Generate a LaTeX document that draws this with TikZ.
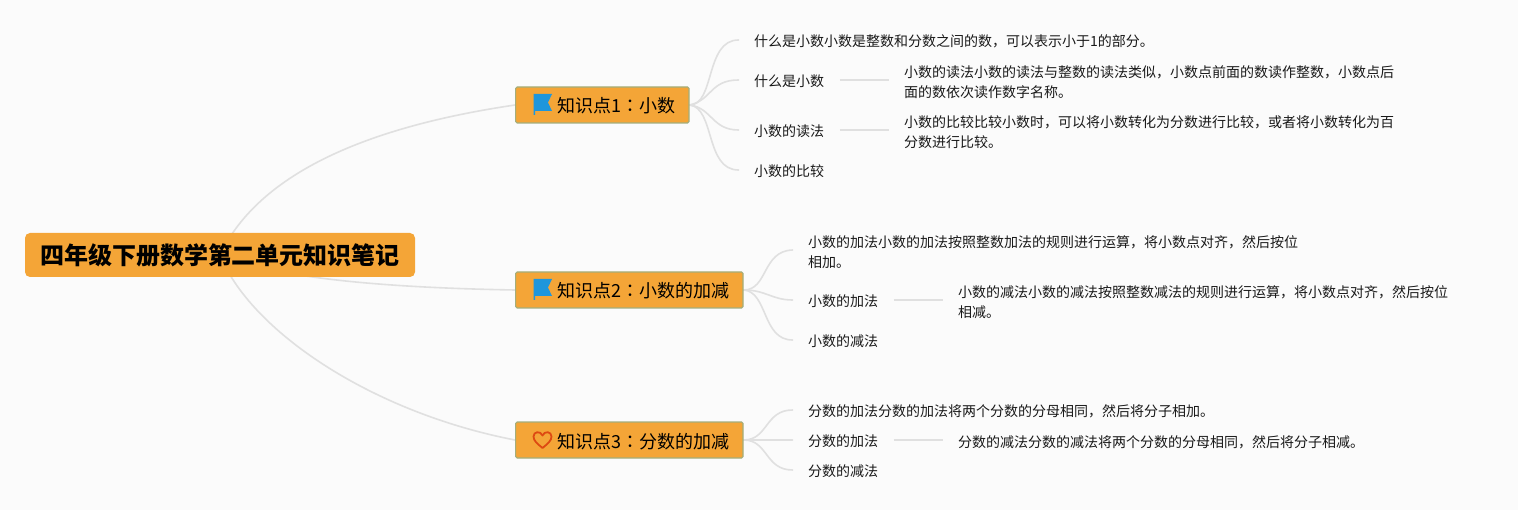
\documentclass[tikz,border=0pt]{standalone}
\usepackage{fontspec}
\setmainfont{Noto Sans CJK SC}
\newfontfamily\cjktc{Noto Sans CJK TC}
\usetikzlibrary{backgrounds}
\definecolor{bgc}{HTML}{FBFBFB}
\definecolor{orangec}{HTML}{F4A537}
\definecolor{bordc}{HTML}{A3AE7C}
\definecolor{linec}{HTML}{E0E0E0}
\definecolor{flagc}{HTML}{1E96DC}
\definecolor{heartc}{HTML}{DD4A12}
\newcommand{\tcolon}{{\cjktc ：}}
\tikzset{
  x=1pt,y=-1pt,
  rootbox/.style={fill=orangec,rounded corners=5pt,minimum width=390pt,minimum height=44pt,inner sep=0pt,text height=23pt,text depth=3pt,font=\fontsize{24}{28}\selectfont\bfseries},
  topicbox/.style={fill=orangec,draw=bordc,line width=1.2pt,rounded corners=1.5pt,minimum height=36pt,inner sep=0pt,anchor=west,text height=18pt,text depth=2pt,font=\fontsize{18}{22}\selectfont},
  leaf/.style={anchor=west,inner xsep=15.5pt,inner ysep=0pt,align=left,font=\fontsize{14}{20}\selectfont,text=black!90},
  link/.style={draw=linec,line width=1.6pt,line cap=round},
  thin link/.style={draw=linec,line width=1.4pt},
  flagicon/.style={fill=flagc},
  hearticon/.style={draw=heartc,line width=1.8pt,line join=round}
}
\begin{document}
\begin{tikzpicture}
\useasboundingbox (0,0) rectangle (1518,510);
% root and topics
\node[rootbox] (root) at (220,255) {四年级下册数学第二单元知识笔记};
\node[topicbox] (t1) at (515,105) {\hspace*{42pt}知识点1\tcolon 小数\hspace*{13.5pt}};
\node[topicbox] (t2) at (515,290) {\hspace*{42pt}知识点2\tcolon 小数的加减\hspace*{13.5pt}};
\node[topicbox] (t3) at (515,440) {\hspace*{42pt}知识点3\tcolon 分数的加减\hspace*{13.5pt}};
% topic 1
\node[leaf] (a1) at (738.5,41.5) {什么是小数小数是整数和分数之间的数，可以表示小于1的部分。};
\node[leaf] (a2) at (738.5,81.5) {什么是小数};
\node[leaf] (a3) at (738.5,131.5) {小数的读法};
\node[leaf] (a4) at (738.5,171.5) {小数的比较};
\node[leaf] (a2d) at (888.5,82) {小数的读法小数的读法与整数的读法类似，小数点前面的数读作整数，小数点后\\面的数依次读作数字名称。};
\node[leaf] (a3d) at (888.5,132) {小数的比较比较小数时，可以将小数转化为分数进行比较，或者将小数转化为百\\分数进行比较。};
% topic 2
\node[leaf] (b1) at (792.5,252) {小数的加法小数的加法按照整数加法的规则进行运算，将小数点对齐，然后按位\\相加。};
\node[leaf] (b2) at (792.5,301.5) {小数的加法};
\node[leaf] (b3) at (792.5,341.5) {小数的减法};
\node[leaf] (b2d) at (942.5,302) {小数的减法小数的减法按照整数减法的规则进行运算，将小数点对齐，然后按位\\相减。};
% topic 3
\node[leaf] (c1) at (792.5,411.5) {分数的加法分数的加法将两个分数的分母相同，然后将分子相加。};
\node[leaf] (c2) at (792.5,441.5) {分数的加法};
\node[leaf] (c3) at (792.5,471.5) {分数的减法};
\node[leaf] (c2d) at (942.5,442) {分数的减法分数的减法将两个分数的分母相同，然后将分子相减。};
% icons
\fill[flagicon] (533.5,94) -- (552,94) -- (548,102.5) -- (552,111) -- (535,111) -- (535,115) -- (533.5,115) -- cycle;
\fill[flagicon] (533.5,279) -- (552,279) -- (548,287.5) -- (552,296) -- (535,296) -- (535,300) -- (533.5,300) -- cycle;
\draw[hearticon] (542.5,448) .. controls (537,443.5) and (533.5,440.5) .. (533.5,436.5) .. controls (533.5,431.5) and (540.5,430.5) .. (542.5,435.5) .. controls (544.5,430.5) and (551.5,431.5) .. (551.5,436.5) .. controls (551.5,440.5) and (548,443.5) .. (542.5,448) -- cycle;
\begin{pgfonlayer}{background}
\fill[bgc] (0,0) rectangle (1518,510);
\draw[link] (root.center) .. controls (265,160) and (400,122) .. (t1.west);
\draw[link] (root.center) .. controls (280,280) and (400,288) .. (t2.west);
\draw[link] (root.center) .. controls (250,330) and (370,412) .. (t3.west);
\draw[link] (t1.east) .. controls (715,105) and (705,40) .. ([yshift=1.5pt]a1.west);
\draw[link] (t1.east) .. controls (712,100) and (710,80) .. ([yshift=1.5pt]a2.west);
\draw[link] (t1.east) .. controls (712,108) and (712,130) .. ([yshift=1.5pt]a3.west);
\draw[link] (t1.east) .. controls (715,108) and (705,170) .. ([yshift=1.5pt]a4.west);
\draw[thin link] ([yshift=1.5pt]a2.east) -- ([yshift=2pt]a2d.west);
\draw[thin link] ([yshift=1.5pt]a3.east) -- ([yshift=2pt]a3d.west);
\draw[link] (t2.east) .. controls (768,290) and (762,251) .. ([yshift=2pt]b1.west);
\draw[link] (t2.east) .. controls (766,290) and (772,300) .. ([yshift=1.5pt]b2.west);
\draw[link] (t2.east) .. controls (768,292) and (762,340) .. ([yshift=1.5pt]b3.west);
\draw[thin link] ([yshift=1.5pt]b2.east) -- ([yshift=2pt]b2d.west);
\draw[link] (t3.east) .. controls (768,440) and (765,410) .. ([yshift=1.5pt]c1.west);
\draw[link] (t3.east) -- ([yshift=1.5pt]c2.west);
\draw[link] (t3.east) .. controls (768,440) and (765,470) .. ([yshift=1.5pt]c3.west);
\draw[thin link] ([yshift=1.5pt]c2.east) -- ([yshift=2pt]c2d.west);
\end{pgfonlayer}
\end{tikzpicture}
\end{document}
